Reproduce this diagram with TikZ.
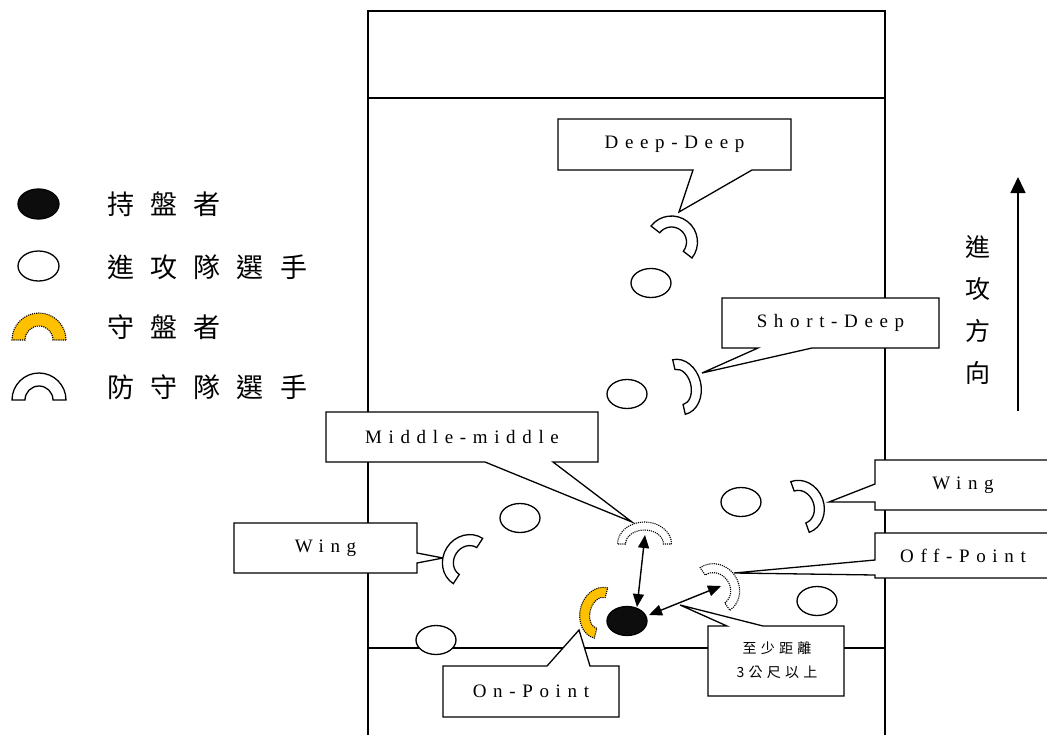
\documentclass[tikz,border=0pt]{standalone}
\usepackage{fontspec}
\setmainfont{Liberation Serif}
\newfontfamily\lblfont{Liberation Serif}[LetterSpace=35]
\newfontfamily\cjkfont{Noto Sans CJK TC}[LetterSpace=60]
\newfontfamily\cjksmall{Noto Sans CJK TC}[LetterSpace=30]
\newfontfamily\cjkplain{Noto Sans CJK TC}
\usetikzlibrary{arrows.meta,shapes.geometric}
\definecolor{gold}{RGB}{255,192,0}
% cx, cy, rot, a, b, t, style
\newcommand\blockarc[7]{%
  \path[#7, shift={(#1,#2)}, rotate=#3, yscale=-1]
    (#4,0) arc[start angle=0,end angle=180,x radius=#4,y radius=#5]
    -- ({-(#4-#6)},0) arc[start angle=180,end angle=0,x radius={#4-#6},y radius={#5-#6}]
    -- cycle;}
\tikzset{
  field/.style={draw=black, line width=1.3pt},
  callout/.style={draw=black, fill=white, line width=1.3pt, line join=miter},
  lbl/.style={font=\lblfont\fontsize{19}{22}\selectfont, inner sep=0pt},
  legtext/.style={font=\cjkfont\fontsize{27}{30}\selectfont, inner sep=0pt, anchor=west},
  player/.style={ellipse, draw=black, fill=white, line width=1.3pt, minimum width=40pt, minimum height=29pt, inner sep=0pt},
  holder/.style={player, fill=black!95},
  defender/.style={draw=black, fill=white, line width=1.3pt},
  ddef/.style={draw=black, fill=white, line width=1.1pt, densely dotted},
  gdef/.style={draw=black, fill=gold, line width=1.1pt, densely dotted},
  dbl/.style={{Triangle[length=13pt,width=11pt]}-{Triangle[length=13pt,width=11pt]}, line width=1.4pt},
}
\begin{document}
\begin{tikzpicture}[x=1pt,y=-1pt]
\useasboundingbox (0,0) rectangle (1047,734);
% field
\draw[field] (368,736) -- (368,11) -- (885,11) -- (885,736);
\draw[field] (368,98) -- (885,98);
\draw[field] (368,648) -- (885,648);

% legend
\node[holder, minimum width=41pt, minimum height=30pt] (lg1) at (38.5,204) {};
\node[player, minimum width=41pt, minimum height=30pt] (lg2) at (38.5,266) {};
\blockarc{39}{340}{0}{27}{27}{13}{gdef}
\blockarc{39}{400}{0}{27}{27}{13}{defender}
\node[legtext] (lt1) at (107,204) {持盤者};
\node[legtext] (lt2) at (107,267) {進攻隊選手};
\node[legtext] (lt3) at (107,327) {守盤者};
\node[legtext] (lt4) at (107,387) {防守隊選手};

% direction
\node[font=\cjkplain\fontsize{25}{42}\selectfont, align=center, inner sep=0pt] (dir) at (978,310) {進\\攻\\方\\向};
\coordinate (dirS) at (1018,411);
\coordinate (dirE) at (1018,177);
\draw[line width=1.4pt, -{Triangle[length=16pt,width=15pt]}] (dirS) -- (dirE);

% callouts
\draw[callout] (558,119) -- (791,119) -- (791,170) -- (752,170) -- (679,212) -- (693,170) -- (558,170) -- cycle;
\node[lbl] (tDD) at (674.5,144.5) {Deep-Deep};
\draw[callout] (722,298) -- (939,298) -- (939,348) -- (812,348) -- (702,373) -- (758,348) -- (722,348) -- cycle;
\node[lbl] (tSD) at (830.5,323) {Short-Deep};
\draw[callout] (326,412) -- (598,412) -- (598,462) -- (553,462) -- (632,522) -- (485,462) -- (326,462) -- cycle;
\node[lbl] (tMM) at (462,437) {Middle-middle};
\draw[callout] (234,523) -- (417,523) -- (417,553) -- (443,558) -- (417,563) -- (417,573) -- (234,573) -- cycle;
\node[lbl] (tWL) at (325.5,548) {Wing};
\draw[callout] (1052,460) -- (875,460) -- (875,484) -- (829,502) -- (875,502) -- (875,510) -- (1052,510) -- cycle;
\node[lbl] (tWR) at (963,485) {Wing};
\draw[callout] (1052,533) -- (875,533) -- (875,560) -- (734,573) -- (875,575) -- (875,578) -- (1052,578) -- cycle;
\node[lbl] (tOP) at (963,556) {Off-Point};
\draw[callout] (443,666) -- (547,666) -- (579,630) -- (590,666) -- (619,666) -- (619,717) -- (443,717) -- cycle;
\node[lbl] (tON) at (531,691.5) {On-Point};
\draw[callout] (708,626) -- (727,626) -- (680,605) -- (763,626) -- (844,626) -- (844,696) -- (708,696) -- cycle;
\node[font=\cjksmall\fontsize{14}{24}\selectfont, align=center, inner sep=0pt] (tDist) at (777,660) {至少距離\\3公尺以上};

% attackers
\node[player] (a1) at (651,283) {};
\node[player] (a2) at (627,394) {};
\node[player] (a3) at (520,518) {};
\node[player] (a4) at (741,502) {};
\node[player] (a5) at (817,601) {};
\node[player] (a6) at (436,640) {};
\node[holder] (bh) at (627,621) {};

% defenders
\blockarc{671.5}{242}{-38}{26}{26}{11}{defender}
\blockarc{679}{387}{-77}{28}{22}{10}{defender}
\blockarc{800}{507}{-70}{27}{24}{10}{defender}
\blockarc{468}{561}{57}{27}{25}{11}{defender}
\blockarc{644.5}{544}{0}{27}{22}{8}{ddef}
\blockarc{715}{589}{-55}{26}{24}{9}{ddef}
\blockarc{601}{613}{75}{26}{21}{10}{gdef}

% arrows
\coordinate (mmA) at (645,535);
\coordinate (bhN) at (637,607);
\coordinate (bhE) at (649,615);
\coordinate (opA) at (721,586);
\draw[dbl] (mmA) -- (bhN);
\draw[dbl] (bhE) -- (opA);
\end{tikzpicture}
\end{document}
